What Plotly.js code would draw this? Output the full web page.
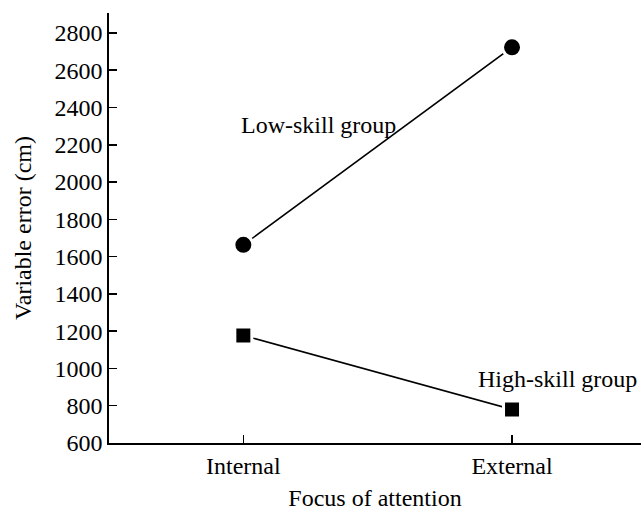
<!DOCTYPE html>
<html>
<head>
<meta charset="utf-8">
<script src="https://cdn.plot.ly/plotly-3.0.1.min.js"></script>
<style>html,body{margin:0;padding:0;background:#fff;}#chart{width:641px;height:512px;}</style>
</head>
<body>
<div id="chart"></div>
<script>
var categories = ["Internal", "External"];
var lowSkill = [1663, 2723];
var highSkill = [1177, 780];
var yTicks = [600, 800, 1000, 1200, 1400, 1600, 1800, 2000, 2200, 2400, 2600, 2800];
var seriesNames = ["Low-skill group", "High-skill group"];

var traces = [
  {
    x: [0, 1], y: lowSkill, mode: "lines+markers", name: seriesNames[0],
    line: {color: "#000", width: 1.5},
    marker: {symbol: "circle", size: 19, color: "#000", line: {color: "#fff", width: 3}},
    hoverinfo: "skip"
  },
  {
    x: [0, 1], y: highSkill, mode: "lines+markers", name: seriesNames[1],
    line: {color: "#000", width: 1.5},
    marker: {symbol: "square", size: 17, color: "#000", line: {color: "#fff", width: 3}},
    hoverinfo: "skip"
  }
];

var layout = {
  width: 641, height: 512,
  margin: {l: 109, r: 0, t: 13, b: 69},
  showlegend: false,
  font: {family: "Liberation Serif", size: 24, color: "black"},
  xaxis: {
    range: [-0.5, 1.48],
    tickvals: [0, 1], ticktext: categories,
    ticks: "inside", ticklen: 8, tickwidth: 1.5, tickcolor: "black",
    showline: true, linecolor: "black", linewidth: 1.8,
    showgrid: false, zeroline: false,
    tickfont: {family: "Liberation Serif", size: 24},
    title: {text: "Focus of attention", font: {family: "Liberation Serif", size: 24}, standoff: 12}
  },
  yaxis: {
    range: [600, 2907],
    tickvals: yTicks,
    ticks: "inside", ticklen: 8, tickwidth: 1.5, tickcolor: "black",
    showline: true, linecolor: "black", linewidth: 1.8,
    showgrid: false, zeroline: false,
    tickfont: {family: "Liberation Serif", size: 24},
    title: {text: "Variable error (cm)", font: {family: "Liberation Serif", size: 24}, standoff: 16}
  },
  annotations: [
    {x: 0.28, y: 2307, xref: "x", yref: "y", text: seriesNames[0], showarrow: false,
     font: {family: "Liberation Serif", size: 24}},
    {x: 1.17, y: 945, xref: "x", yref: "y", text: seriesNames[1], showarrow: false,
     font: {family: "Liberation Serif", size: 24}}
  ]
};

Plotly.newPlot("chart", traces, layout, {staticPlot: true});
</script>
</body>
</html>
